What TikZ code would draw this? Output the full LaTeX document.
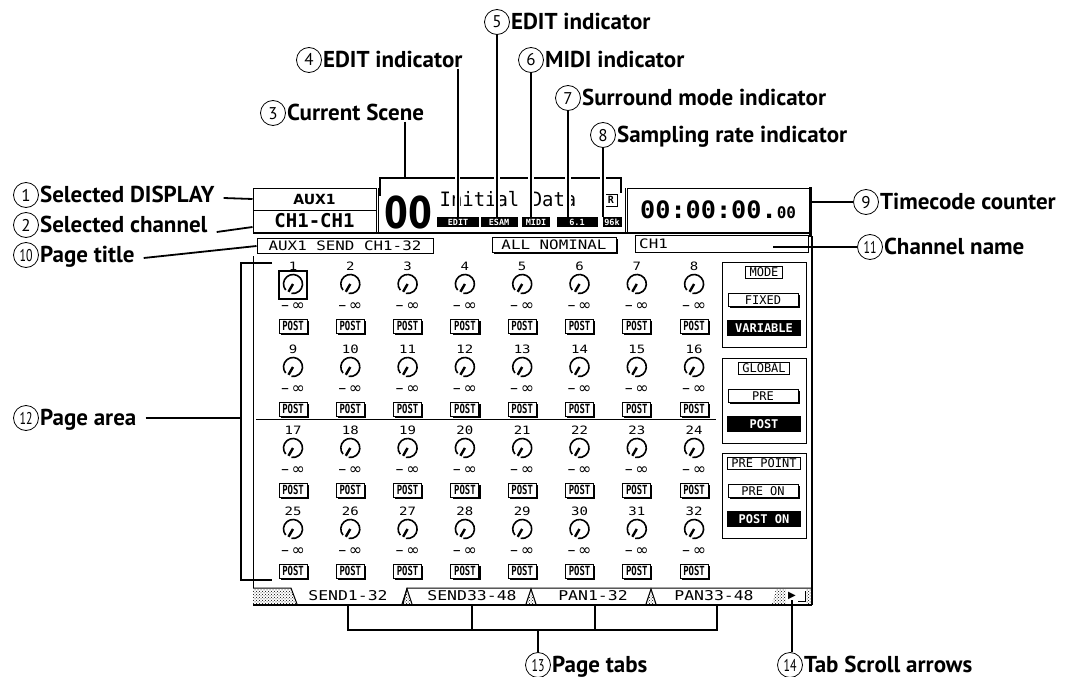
\documentclass[tikz,border=0pt]{standalone}
\usepackage{fontspec}
\setmainfont{PT Sans}
\newfontfamily\lcd{DejaVu Sans Mono}
\newfontfamily\lcdsans{DejaVu Sans}
\usetikzlibrary{positioning,patterns,shadows}
\newcommand{\wide}[1]{\scalebox{1.22}[1]{#1}}

\begin{document}
\begin{tikzpicture}[x=1pt,y=-1pt,
    num/.style={draw,circle,line width=0.8pt,inner sep=0pt,minimum size=25pt,text height=12pt,text depth=0pt,font=\fontsize{17}{17}\selectfont},
    lbl/.style={inner sep=0pt,text height=16pt,text depth=1pt,font=\fontsize{23}{23}\selectfont\bfseries},
    lead/.style={line width=1.8pt},
    leadx/.style={line width=1.8pt,preaction={draw=white,line width=5.5pt}},
    scr/.style={line width=1pt},
    chnum/.style={inner sep=0pt,font=\lcd\fontsize{11.5}{11.5}\selectfont},
    minf/.style={inner sep=0pt,font=\lcdsans\fontsize{16}{16}\selectfont},
    knob/.style={line width=1.6pt},
    postbox/.style={draw,fill=white,line width=1pt,inner sep=0pt,minimum width=28pt,minimum height=14pt,font=\lcd\bfseries\fontsize{10.5}{10.5}\selectfont,drop shadow={shadow xshift=1.6pt,shadow yshift=-1.6pt,opacity=1,fill=black}},
    grplbl/.style={draw,fill=white,line width=0.9pt,inner xsep=4pt,inner ysep=1.5pt,font=\lcd\fontsize{12}{12}\selectfont},
    btn/.style={draw,fill=white,line width=0.9pt,inner sep=0pt,minimum width=70pt,minimum height=13pt,font=\lcd\fontsize{12}{12}\selectfont,drop shadow={shadow xshift=1.8pt,shadow yshift=-1.8pt,opacity=1,fill=black}},
    btnon/.style={fill=black,text=white,inner sep=0pt,minimum width=74pt,minimum height=16pt,font=\lcd\bfseries\fontsize{12}{12}\selectfont},
    indic/.style={fill=black,text=white,inner sep=0pt,minimum height=10pt,font=\lcd\bfseries\fontsize{8.5}{8.5}\selectfont},
    tabtxt/.style={inner sep=0pt,font=\lcd\fontsize{13.5}{13.5}\selectfont},
    hatch/.style={pattern=crosshatch dots,pattern color=black}]

\useasboundingbox[fill=white] (0,0) rectangle (1066,677);

% callouts
\foreach \n/\x/\y/\t in {1/26/195/Selected DISPLAY,2/26/225/Selected channel,10/26/255/Page title,12/26/418/Page area,3/273/113/Current Scene,4/309/60/EDIT indicator,5/497/22/EDIT indicator,6/531/60/MIDI indicator,7/568/98/Surround mode indicator,8/603/135/Sampling rate indicator,9/866/202/Timecode counter,11/870/247/Channel name,13/538/665/Page tabs,14/790/665/Tab Scroll arrows}{
    \node[num] (n\n) at (\x,\y) {\ifnum\n>9 \scalebox{0.7}[1]{\n}\else\n\fi};
    \node[lbl,right=1pt of n\n] (l\n) {\t};
}

% top row of the screen
\node[draw,scr,minimum width=123pt,minimum height=22pt,inner sep=0pt,font=\lcdsans\bfseries\fontsize{14}{14}\selectfont] (selDisp) at (314.5,199) {AUX1};
\node[draw,scr,minimum width=123pt,minimum height=22pt,inner sep=0pt,font=\lcd\bfseries\fontsize{19}{19}\selectfont] (selCh) at (314.5,221) {CH1-CH1};
\draw[scr] (378,188) -- (378,232);
\node[inner sep=0pt,font=\lcdsans\bfseries\fontsize{44}{44}\selectfont] (scNum) at (408,212) {\scalebox{0.78}[1]{00}};
\node[inner sep=0pt,font=\lcd\fontsize{18}{18}\selectfont] (scName) at (508,199) {\scalebox{1.05}[1.1]{Initial Data}};
\foreach \i/\x/\w/\t in {1/458/42/EDIT,2/499/37/ESAM,3/536/28/MIDI,4/577/41/6.1,5/612/19/96k}{
    \node[indic,minimum width=\w pt] (ind\i) at (\x,222) {\t};
}
\node[draw,line width=0.9pt,minimum width=12pt,minimum height=12pt,inner sep=0pt,font=\lcd\bfseries\fontsize{10}{10}\selectfont] (rIcon) at (611,200) {R};
\draw[scr] (625,188) -- (625,232);
\draw[scr] (627,188) rectangle (810,232);
\draw[line width=3pt] (810,187) -- (810,237);
\node[inner sep=0pt,anchor=base west,font=\lcd\bfseries\fontsize{24}{24}\selectfont] (tcode) at (640,218) {\scalebox{1.05}[1]{00:00:00.}{\fontsize{16}{16}\selectfont 00}};
\draw[line width=2.5pt] (253,233) -- (812,233);

% second row
\node[draw,scr,minimum width=176pt,minimum height=15pt,inner sep=0pt,font=\lcd\fontsize{13}{13}\selectfont] (ptitle) at (345,246) {\wide{AUX1 SEND CH1-32}};
\node[draw,scr,fill=white,minimum width=124pt,minimum height=15pt,inner sep=0pt,font=\lcd\fontsize{13}{13}\selectfont,drop shadow={shadow xshift=1.8pt,shadow yshift=-1.8pt,opacity=1,fill=black}] (allNom) at (554,245) {\wide{ALL NOMINAL}};
\node[draw,scr,minimum width=173pt,minimum height=17pt,inner sep=0pt] (chName) at (721.5,244) {};
\node[inner sep=0pt,anchor=west,font=\lcd\fontsize{13}{13}\selectfont] (chTxt) at (639,244) {\wide{CH1}};

% page area
\draw[scr] (253,256) -- (253,588);
\draw[line width=1.5pt] (812,236) -- (812,605);
\draw[scr] (256,419) -- (716,419);
\foreach \r/\ry in {0/266,1/349,2/430,3/511}{
    \foreach \c in {1,...,8}{
        \pgfmathtruncatemacro\ch{8*\r+\c}
        \pgfmathsetmacro\cx{293+57.3*(\c-1)}
        \node[chnum] (ch\ch) at (\cx,\ry) {\wide{\ch}};
        \draw[knob] (\cx,\ry+18) ++(140:9.5) arc[start angle=140,end angle=460,radius=9.5];
        \draw[knob,line width=2.4pt] (\cx,\ry+18) -- ++(120:9);
        \node[minf] (inf\ch) at (\cx,\ry+41) {–\,∞};
        \node[postbox] (post\ch) at (\cx,\ry+60) {\scalebox{0.85}[1.2]{POST}};
    }
}
\draw[line width=2.8pt] (279,271) rectangle (307,299);

% MODE / GLOBAL / PRE POINT
\foreach \g/\gy/\ga/\gb/\gc in {1/262/MODE/FIXED/VARIABLE,2/358/GLOBAL/PRE/POST,3/453/PRE POINT/PRE ON/POST ON}{
    \draw[scr] (722,\gy) rectangle (806,\gy+85);
    \node[grplbl] (grp\g) at (764,\gy+10) {\ga};
    \node[btn] (btn\g) at (763,\gy+38) {\gb};
    \node[btnon] (on\g) at (764,\gy+66) {\gc};
}

% tabs
\fill[hatch] (253,589) -- (291,589) -- (297,604) -- (253,604) -- cycle;
\draw[scr] (253,588) -- (291,588) -- (297,604);
\draw[scr] (403,604) -- (407,588) -- (812,588);
\foreach \sx in {407,531,651}{
    \fill[hatch] (\sx-5,604) -- (\sx,589) -- (\sx+5,604) -- cycle;
    \draw[scr] (\sx-5,604) -- (\sx,589) -- (\sx+5,604);
}
\fill[hatch] (772,604) -- (776,589) -- (786,589) -- (786,604) -- cycle;
\fill[hatch] (806,589) rectangle (812,604);
\draw[scr] (798,601) -- (805,601) -- (805,591);
\node[inner sep=0pt,font=\lcdsans\fontsize{10}{10}\selectfont] (scrl) at (792,596) {▶};
\foreach \i/\x/\t in {1/348/SEND1-32,2/472/SEND33-48,3/593/PAN1-32,4/714/PAN33-48}{
    \node[tabtxt] (tab\i) at (\x,596) {\wide{\t}};
}
\draw[line width=2.5pt] (253,605) -- (812,605);

% leaders
\coordinate (pgTop) at (272,263);
\coordinate (pgBot) at (272,580);
\coordinate (pgMid) at (241,418);
\coordinate (scTop) at (405,178);
\coordinate (scL) at (380,196);
\coordinate (scR) at (621,193);
\coordinate (tcR) at (812,202);
\coordinate (chR) at (773,247);
\coordinate (tj) at (538,630);
\coordinate (tb1) at (348,606);
\coordinate (tb2) at (472,606);
\coordinate (tb3) at (595,606);
\coordinate (tb4) at (717,606);

\draw[lead] ([xshift=9pt,yshift=-3pt]l1.east) -- (selDisp.west);
\draw[lead] ([xshift=9pt,yshift=-7pt]l2.east) -- ([yshift=-6pt]selCh.west);
\draw[lead] ([xshift=9pt,yshift=-3pt]l10.east) -- (ptitle.west);
\draw[lead] ([xshift=9pt]l12.east) -- (pgMid);
\draw[lead] (pgTop) -- (pgTop -| pgMid) -- (pgBot -| pgMid) -- (pgBot);
\draw[lead] (l3.south -| scTop) -- (scTop);
\draw[lead] (scL) -- (scL |- scTop) -- (scR |- scTop) -- (scR);
\draw[leadx] ([xshift=-5pt]l4.south east) coordinate (a4) -- (a4 |- ind1.north);
\draw[leadx] (n5.south) -- (n5.south |- ind2.north);
\draw[leadx] (n6.south) -- (n6.south |- ind3.north);
\draw[leadx] (n7.south) -- (n7.south |- ind4.north);
\draw[leadx] (n8.south) -- (n8.south |- ind5.north);
\draw[lead] (tcR) -- (n9.west);
\draw[lead] (chR) -- (n11.west);
\draw[lead] (tb1) -- (tb1 |- tj) -- (tb4 |- tj) -- (tb4);
\draw[lead] (tb2) -- (tb2 |- tj);
\draw[lead] (tb3) -- (tb3 |- tj);
\draw[lead] (tj) -- (n13.north);
\draw[lead] (scrl.south) -- (scrl.south |- n14.north);
\end{tikzpicture}
\end{document}
